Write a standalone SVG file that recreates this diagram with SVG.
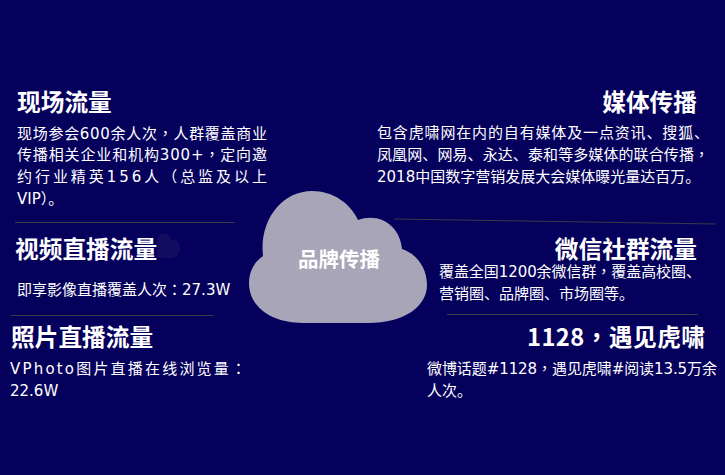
<svg xmlns="http://www.w3.org/2000/svg" width="725" height="475" viewBox="0 0 725 475">
<style>
text{fill:#fff;font-family:"Noto Sans CJK SC","Noto Sans",sans-serif}
.t{font-size:23.7px;font-weight:700}
.b{font-size:15px;font-family:"DejaVu Sans","Noto Sans CJK SC",sans-serif}
.e{text-anchor:end}
.c{fill:#a9a5b8}
.d{stroke:#3a3a48;stroke-width:1;fill:none}
.p{font-family:"Noto Sans CJK TC",sans-serif}
</style>
<rect width="725" height="475" fill="#05005c"/>
<g id="connectors">
<line class="d" x1="15" y1="222.500" x2="235" y2="222.500"/>
<line class="d" x1="11" y1="315.500" x2="214" y2="315.500"/>
<line class="d" x1="394" y1="219" x2="716" y2="224"/>
<line class="d" x1="447" y1="314.500" x2="698" y2="314.500"/>
</g>
<g id="ghost-cloud"><path fill="#140c60" d="M157,238 C160,232 169,232 171,240 C176,238 180,243 180,249 C180,255 176,258 170,258 L157,258Z"/></g>
<g id="brand"><path class="c" d="M263,256 C259,220 282,191 312,191 C333,191 350,203 358,220 C380,212 400,226 402,249 C417,254 427,268 427,285 C427,306 405,323 368,323 L303,323 C270,323 249,306 249,283 C249,272 254,262 263,256Z"/>
<text x="339" y="267" text-anchor="middle" font-weight="700" style="font-size:20.500px">品牌传播</text></g>
<g id="xianchang">
<text class="t" x="17" y="111">现场流量</text>
<text class="b" x="17" y="139" textLength="250">现场参会600余人次<tspan class="p">，</tspan>人群覆盖商业</text>
<text class="b" x="17" y="160" textLength="250">传播相关企业和机构300+<tspan class="p">，</tspan>定向邀</text>
<text class="b" x="17" y="182" textLength="250">约行业精英156人（总监及以上</text>
<text class="b" x="17" y="204">VIP）。</text>
</g>
<g id="shipin">
<text class="t" x="15" y="258">视频直播流量</text>
<text class="b" x="17" y="295">即享影像直播覆盖人次<tspan class="p">：</tspan>27.3W</text>
</g>
<g id="zhaopian">
<text class="t" x="11" y="346">照片直播流量</text>
<text class="b" x="10" y="374" textLength="236">VPhoto图片直播在线浏览量<tspan class="p">：</tspan></text>
<text class="b" x="10" y="396">22.6W</text>
</g>
<g id="meiti">
<text class="t e" x="697" y="111">媒体传播</text>
<text class="b" x="377" y="138" textLength="332">包含虎啸网在内的自有媒体及一点资讯、搜狐、</text>
<text class="b" x="377" y="160" textLength="332">凤凰网、网易、永达、泰和等多媒体的联合传播<tspan class="p">，</tspan></text>
<text class="b" x="377" y="182">2018中国数字营销发展大会媒体曝光量达百万。</text>
</g>
<g id="weixin">
<text class="t e" x="697" y="258">微信社群流量</text>
<text class="b" x="439" y="277" textLength="262">覆盖全国1200余微信群<tspan class="p">，</tspan>覆盖高校圈、</text>
<text class="b" x="439" y="299">营销圈、品牌圈、市场圈等。</text>
</g>
<g id="huxiao">
<text class="t" x="527" y="346" textLength="178">1128<tspan class="p">，</tspan>遇见虎啸</text>
<text class="b" x="427" y="374" textLength="290">微博话题#1128<tspan class="p">，</tspan>遇见虎啸#阅读13.5万余</text>
<text class="b" x="427" y="396">人次。</text>
</g>
</svg>
